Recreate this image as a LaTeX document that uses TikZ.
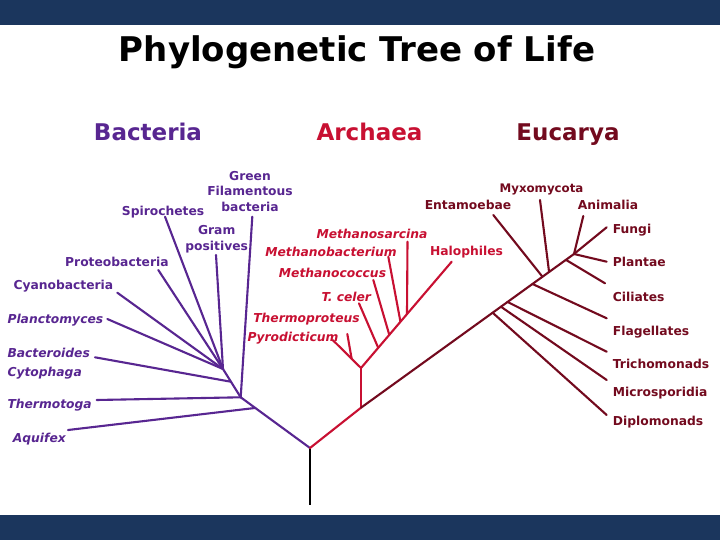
\documentclass[tikz,border=0pt]{standalone}
\usepackage{fontspec}
\setmainfont{DejaVu Sans}
\usetikzlibrary{calc}
\definecolor{barblue}{RGB}{27,54,93}
\definecolor{bac}{RGB}{88,38,145}
\definecolor{arc}{RGB}{200,16,50}
\definecolor{euc}{RGB}{115,10,30}
\tikzset{
  lab/.style={inner sep=0pt, font=\fontsize{12.3}{14}\selectfont\bfseries},
  itl/.style={inner sep=0pt, font=\fontsize{12.3}{14}\selectfont\bfseries\itshape},
  hdr/.style={inner sep=0pt, font=\fontsize{23}{26}\selectfont\bfseries, anchor=base},
  br/.style={line width=2.1pt, line cap=round},
}
\begin{document}
\begin{tikzpicture}[x=1pt,y=-1pt]
\useasboundingbox (0,0) rectangle (720,540);
\fill[white] (0,0) rectangle (720,540);
\fill[barblue] (0,0) rectangle (720,25);
\fill[barblue] (0,515) rectangle (720,540);
\node[inner sep=0pt, anchor=base, font=\fontsize{34}{40}\selectfont\bfseries] (title) at (357,62) {Phylogenetic Tree of Life};
\node[hdr, text=bac] (hbac) at (148,141) {Bacteria};
\node[hdr, text=arc] (harc) at (369.5,141) {Archaea};
\node[hdr, text=euc] (heuc) at (568,141) {Eucarya};

% ---------- coordinates ----------
\coordinate (R) at (310,448);
\coordinate (Rb) at (310,505);
% bacteria
\coordinate (A) at (240.7,397.3);
\coordinate (B) at (223,369);
\coordinate (Bj) at ($(B)!0.45!(A)$);
\coordinate (Aj) at ($(A)!0.21!(R)$);
\coordinate (gfT) at (252.3,216.7);
\coordinate (spT) at (165,216.7);
\coordinate (gpT) at (216,255);
\coordinate (prT) at (158.3,270);
\coordinate (cyT) at (117.3,292.7);
\coordinate (plT) at (107.3,319);
\coordinate (btT) at (95,357.3);
\coordinate (thT) at (96.7,400);
\coordinate (aqT) at (68,430);
% archaea
\coordinate (Ar) at (361,407.7);
\coordinate (Ac) at (361,368);
\coordinate (haT) at (451.7,261.7);
\coordinate (tcJ) at ($(Ac)!0.19!(haT)$);
\coordinate (mcJ) at ($(Ac)!0.312!(haT)$);
\coordinate (mbJ) at ($(Ac)!0.435!(haT)$);
\coordinate (msJ) at ($(Ac)!0.507!(haT)$);
\coordinate (tcT) at (359,303.3);
\coordinate (mcT) at (373.3,280);
\coordinate (mbT) at (388.3,256.7);
\coordinate (msT) at (407.5,241.7);
\coordinate (pyT) at (332.7,340);
\coordinate (thpT) at (347.3,334);
\coordinate (thpJ) at ($(pyT)!0.67!(Ac)$);
% eucarya
\coordinate (E1) at (574,254);
\coordinate (dpJ) at ($(Ar)!0.618!(E1)$);
\coordinate (miJ) at ($(Ar)!0.657!(E1)$);
\coordinate (trJ) at ($(Ar)!0.688!(E1)$);
\coordinate (flJ) at ($(Ar)!0.805!(E1)$);
\coordinate (enJ) at ($(Ar)!0.852!(E1)$);
\coordinate (myJ) at ($(Ar)!0.883!(E1)$);
\coordinate (ciJ) at ($(Ar)!0.962!(E1)$);
\coordinate (dpT) at (606.7,415);
\coordinate (miT) at (606.7,380);
\coordinate (trT) at (606.7,351.7);
\coordinate (flT) at (606.7,318.3);
\coordinate (enT) at (493.3,215);
\coordinate (myT) at (540,200);
\coordinate (ciT) at (605,283.3);
\coordinate (plaT) at (606.7,261.7);
\coordinate (anT) at (583.3,216);
\coordinate (fuT) at (606.7,227.3);

% ---------- branches ----------
\draw[br, black, line cap=butt] (R) -- (Rb);
\begin{scope}[br, draw=bac]
\draw (R) -- (A);
\draw (A) -- (B);
\draw (gfT) -- (A);
\draw (thT) -- (A);
\draw (aqT) -- (Aj);
\draw (btT) -- (Bj);
\draw (spT) -- (B);
\draw (gpT) -- (B);
\draw (prT) -- (B);
\draw (cyT) -- (B);
\draw (plT) -- (B);
\end{scope}
\begin{scope}[br, draw=arc]
\draw (R) -- (Ar);
\draw (Ar) -- (Ac);
\draw (Ac) -- (haT);
\draw (pyT) -- (Ac);
\draw (thpT) -- (thpJ);
\draw (tcT) -- (tcJ);
\draw (mcT) -- (mcJ);
\draw (mbT) -- (mbJ);
\draw (msT) -- (msJ);
\end{scope}
\begin{scope}[br, draw=euc]
\draw (Ar) -- (E1);
\draw (dpJ) -- (dpT);
\draw (miJ) -- (miT);
\draw (trJ) -- (trT);
\draw (flJ) -- (flT);
\draw (enT) -- (enJ);
\draw (myT) -- (myJ);
\draw (ciJ) -- (ciT);
\draw (E1) -- (plaT);
\draw (E1) -- (anT);
\draw (E1) -- (fuT);
\end{scope}

% ---------- labels: bacteria ----------
\begin{scope}[text=bac]
\node[lab, anchor=base] (gf1) at (250,181) {Green};
\node[lab, anchor=base] (gf2) at (250,196) {Filamentous};
\node[lab, anchor=base] (gf3) at (250,211.5) {bacteria};
\node[lab, anchor=base west] (sp) at (121.7,215.5) {Spirochetes};
\node[lab, anchor=base] (gp1) at (216.7,234.5) {Gram};
\node[lab, anchor=base] (gp2) at (216.7,250) {positives};
\node[lab, anchor=base west] (pr) at (65,266.8) {Proteobacteria};
\node[lab, anchor=base west] (cy) at (13.3,289.5) {Cyanobacteria};
\node[itl, anchor=base west] (pl) at (7.3,323.5) {Planctomyces};
\node[itl, anchor=base west] (bt1) at (7.3,357.8) {Bacteroides};
\node[itl, anchor=base west] (bt2) at (7.3,376) {Cytophaga};
\node[itl, anchor=base west] (th) at (7.3,408.5) {Thermotoga};
\node[itl, anchor=base west] (aq) at (12.7,442.8) {Aquifex};
\end{scope}
% ---------- labels: archaea ----------
\begin{scope}[text=arc]
\node[itl, anchor=base] (ms) at (372,238.5) {Methanosarcina};
\node[itl, anchor=base] (mb) at (331,256) {Methanobacterium};
\node[itl, anchor=base] (mc) at (332.5,277.8) {Methanococcus};
\node[itl, anchor=base] (tc) at (346.3,301) {T. celer};
\node[itl, anchor=base] (thp) at (306.5,322.5) {Thermoproteus};
\node[itl, anchor=base] (py) at (293,341) {Pyrodicticum};
\node[lab, anchor=base] (ha) at (466.5,255.5) {Halophiles};
\end{scope}
% ---------- labels: eucarya ----------
\begin{scope}[text=euc]
\node[lab, anchor=base, font=\fontsize{11.8}{14}\selectfont\bfseries] (my) at (541.5,192.8) {Myxomycota};
\node[lab, anchor=base] (en) at (468,209.5) {Entamoebae};
\node[lab, anchor=base] (an) at (608,209.5) {Animalia};
\node[lab, anchor=base west] (fu) at (612.7,233.5) {Fungi};
\node[lab, anchor=base west] (pla) at (612.7,266.8) {Plantae};
\node[lab, anchor=base west] (ci) at (612.7,301) {Ciliates};
\node[lab, anchor=base west] (fl) at (612.7,335) {Flagellates};
\node[lab, anchor=base west] (tr) at (612.7,368.8) {Trichomonads};
\node[lab, anchor=base west] (mi) at (612.7,396.8) {Microsporidia};
\node[lab, anchor=base west] (dp) at (612.7,425) {Diplomonads};
\end{scope}
\end{tikzpicture}
\end{document}
